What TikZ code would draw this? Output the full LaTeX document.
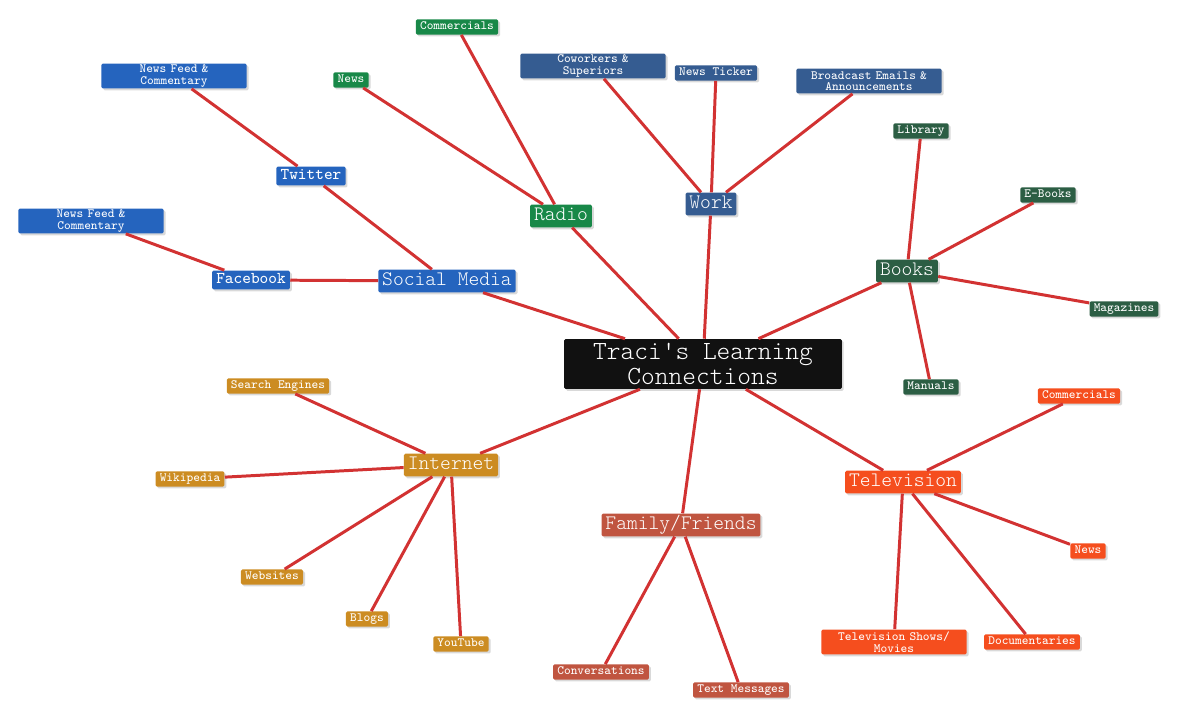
\documentclass[tikz,border=0pt]{standalone}
\usetikzlibrary{shadows}

\definecolor{hubblack}{RGB}{17,17,17}
\definecolor{socialblue}{RGB}{37,100,190}
\definecolor{workblue}{RGB}{53,92,145}
\definecolor{radiogreen}{RGB}{24,136,72}
\definecolor{bookgreen}{RGB}{44,94,68}
\definecolor{netgold}{RGB}{204,140,34}
\definecolor{famred}{RGB}{192,85,64}
\definecolor{tvorange}{RGB}{245,78,30}
\definecolor{linkred}{RGB}{210,50,50}

\tikzset{
    box/.style={rectangle, rounded corners=0.8pt, text=white,
        drop shadow={shadow xshift=1.1pt, shadow yshift=-1.1pt, opacity=0.3, fill=gray}},
    leaf/.style={box, font=\ttfamily\fontsize{7.2}{7.2}\selectfont, inner xsep=2.4pt, inner ysep=1.4pt,
        text height=4.5pt, text depth=1.3pt},
    midleaf/.style={box, font=\ttfamily\fontsize{9.4}{9.4}\selectfont, inner xsep=2.4pt, inner ysep=1.8pt,
        text height=5.6pt, text depth=1.6pt},
    wideleaf/.style={box, font=\ttfamily\fontsize{7.2}{6.6}\selectfont, align=center, text width=76pt,
        minimum height=14.2pt, inner ysep=0.5pt},
    topic/.style={box, font=\ttfamily\fontseries{l}\fontsize{11.7}{11.7}\selectfont, inner xsep=2.2pt,
        inner ysep=1.8pt, text height=7.3pt, text depth=2pt},
}

\begin{document}
\begin{tikzpicture}[x=0.02cm, y=-0.02cm]
    \useasboundingbox (0,0) rectangle (1178,718);
    % hub
    \node[box, fill=hubblack, font=\ttfamily\fontseries{l}\fontsize{14.9}{14.2}\selectfont, align=center,
        minimum width=158pt, minimum height=28.4pt, inner ysep=0.5pt] (traci) at (703,364)
        {Traci\textquotesingle s Learning\\Connections};
    % topics
    \node[topic, fill=socialblue] (social) at (447,281) {Social Media};
    \node[topic, fill=radiogreen] (radio) at (561,216) {Radio};
    \node[topic, fill=workblue] (work) at (711,204) {Work};
    \node[topic, fill=bookgreen] (books) at (907,271) {Books};
    \node[topic, fill=netgold] (internet) at (451,465) {Internet};
    \node[topic, fill=famred] (family) at (681,525) {Family/Friends};
    \node[topic, fill=tvorange] (tv) at (903,482) {Television};
    % social media
    \begin{scope}[every node/.append style={fill=socialblue}]
        \node[midleaf] (twitter) at (311,176) {Twitter};
        \node[midleaf] (facebook) at (251,280) {Facebook};
        \node[wideleaf] (twfeed) at (174,76) {News Feed \&\\Commentary};
        \node[wideleaf] (fbfeed) at (91,221) {News Feed \&\\Commentary};
    \end{scope}
    % radio
    \begin{scope}[every node/.append style={leaf, fill=radiogreen}]
        \node (rnews) at (351,80) {News};
        \node (rcomm) at (457,27) {Commercials};
    \end{scope}
    % work
    \begin{scope}[every node/.append style={fill=workblue}]
        \node[wideleaf] (cowork) at (593,66) {Coworkers \&\\Superiors};
        \node[leaf] (ticker) at (716,73) {News Ticker};
        \node[wideleaf] (bcast) at (869,81) {Broadcast Emails \&\\Announcements};
    \end{scope}
    % books
    \begin{scope}[every node/.append style={leaf, fill=bookgreen}]
        \node (library) at (921,131) {Library};
        \node (ebooks) at (1048,195) {E-Books};
        \node (mags) at (1124,309) {Magazines};
        \node (manuals) at (931,387) {Manuals};
    \end{scope}
    % television
    \begin{scope}[every node/.append style={fill=tvorange}]
        \node[leaf] (tvcomm) at (1079,396) {Commercials};
        \node[leaf] (tvnews) at (1088,551) {News};
        \node[leaf] (docs) at (1032,642) {Documentaries};
        \node[wideleaf] (shows) at (894,642) {Television Shows/\\Movies};
    \end{scope}
    % family
    \begin{scope}[every node/.append style={leaf, fill=famred}]
        \node (convo) at (601,672) {Conversations};
        \node (texts) at (741,690) {Text Messages};
    \end{scope}
    % internet
    \begin{scope}[every node/.append style={leaf, fill=netgold}]
        \node (search) at (278,386) {Search Engines};
        \node (wiki) at (190,479) {Wikipedia};
        \node (websites) at (272,577) {Websites};
        \node (blogs) at (367,619) {Blogs};
        \node (youtube) at (461,644) {YouTube};
    \end{scope}
    % links
    \begin{scope}[every edge/.style={draw=linkred, line width=1.7pt}]
        \path (traci) edge (social) edge (radio) edge (work) edge (books)
            edge (internet) edge (family) edge (tv);
        \path (social) edge (twitter) edge (facebook);
        \path (twitter) edge (twfeed);
        \path (facebook) edge (fbfeed);
        \path (radio) edge (rnews) edge (rcomm);
        \path (work) edge (cowork) edge (ticker) edge (bcast);
        \path (books) edge (library) edge (ebooks) edge (mags) edge (manuals);
        \path (tv) edge (tvcomm) edge (tvnews) edge (docs) edge (shows);
        \path (family) edge (convo) edge (texts);
        \path (internet) edge (search) edge (wiki) edge (websites) edge (blogs) edge (youtube);
    \end{scope}
\end{tikzpicture}
\end{document}
